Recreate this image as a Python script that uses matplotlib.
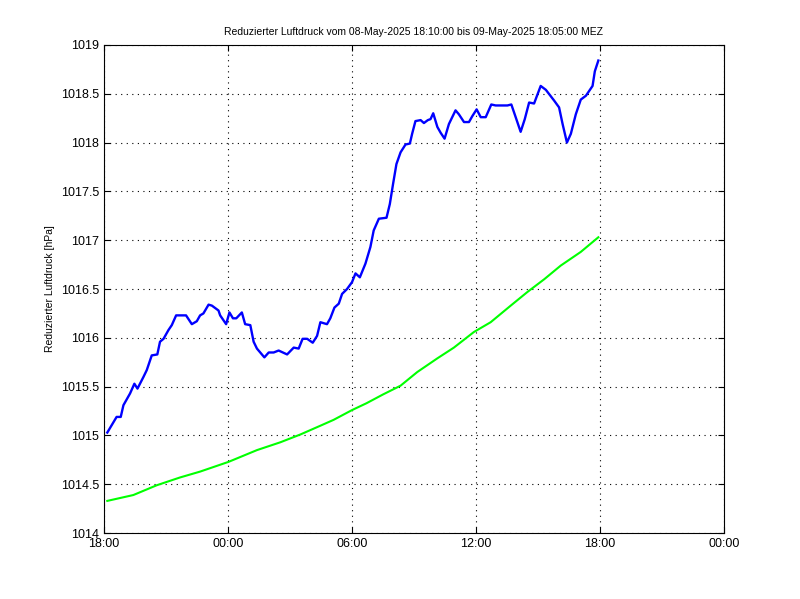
import numpy as np
import matplotlib
matplotlib.use('Agg')
import matplotlib.pyplot as plt

plt.rcParams['font.family'] = ['Liberation Sans', 'DejaVu Sans']

# hours after 08-May-2025 18:00
t_luft = [0.16, 0.61, 0.81, 0.94, 1.26, 1.47, 1.62, 1.91, 2.07, 2.31, 2.58, 2.71, 2.88,
          3.12, 3.28, 3.49, 3.97, 4.25, 4.49, 4.65, 4.81, 5.06, 5.22, 5.54, 5.62, 5.91,
          6.07, 6.24, 6.40, 6.67, 6.83, 7.08, 7.24, 7.40, 7.76, 7.97, 8.21, 8.45, 8.86,
          9.18, 9.42, 9.61, 9.83, 10.10, 10.31, 10.47, 10.79, 10.95, 11.15, 11.36, 11.52,
          11.76, 12.00, 12.17, 12.38, 12.65, 12.89, 13.05, 13.30, 13.67, 13.83, 13.99,
          14.15, 14.35, 14.59, 14.80, 14.91, 15.07, 15.32, 15.48, 15.67, 15.80, 15.93,
          16.13, 16.29, 16.48, 16.69, 17.01, 17.17, 17.42, 17.66, 17.82, 18.03, 18.23,
          18.47, 18.74, 18.95, 19.52, 19.71, 19.92, 20.16, 20.36, 20.57, 20.81, 21.13,
          21.38, 21.78, 22.02, 22.19, 22.40, 22.59, 22.83, 23.07, 23.32, 23.48, 23.64,
          23.75, 23.92]
p_luft = [1015.03, 1015.19, 1015.19, 1015.31, 1015.43, 1015.53, 1015.48, 1015.60, 1015.67,
          1015.82, 1015.83, 1015.96, 1015.99, 1016.08, 1016.13, 1016.23, 1016.23, 1016.14,
          1016.17, 1016.23, 1016.25, 1016.34, 1016.33, 1016.28, 1016.23, 1016.14, 1016.26,
          1016.20, 1016.20, 1016.26, 1016.14, 1016.13, 1015.96, 1015.89, 1015.80, 1015.85,
          1015.85, 1015.87, 1015.83, 1015.90, 1015.89, 1015.99, 1015.99, 1015.95, 1016.02,
          1016.16, 1016.14, 1016.20, 1016.31, 1016.35, 1016.45, 1016.50, 1016.57, 1016.66,
          1016.62, 1016.76, 1016.93, 1017.10, 1017.22, 1017.23, 1017.37, 1017.58, 1017.78,
          1017.90, 1017.98, 1017.99, 1018.09, 1018.22, 1018.23, 1018.20, 1018.23, 1018.24,
          1018.30, 1018.16, 1018.10, 1018.04, 1018.19, 1018.33, 1018.29, 1018.21, 1018.21,
          1018.27, 1018.34, 1018.26, 1018.26, 1018.39, 1018.38, 1018.38, 1018.39, 1018.26,
          1018.11, 1018.24, 1018.41, 1018.40, 1018.58, 1018.54, 1018.43, 1018.36, 1018.19,
          1018.00, 1018.09, 1018.29, 1018.44, 1018.48, 1018.53, 1018.58, 1018.73, 1018.84]

# green trend curve
t_trend = [0.16, 1.42, 2.55, 3.68, 4.65, 6.03, 7.40, 8.53, 9.50, 10.47, 11.11, 12.0,
           12.7, 13.5, 14.35, 15.16, 16.13, 16.93, 17.90, 18.71, 19.68, 20.49, 21.30,
           22.10, 23.07, 23.92]
p_trend = [1014.33, 1014.39, 1014.49, 1014.57, 1014.63, 1014.73, 1014.85, 1014.93,
           1015.01, 1015.10, 1015.16, 1015.26, 1015.33, 1015.42, 1015.51, 1015.65,
           1015.79, 1015.90, 1016.06, 1016.16, 1016.33, 1016.47, 1016.60, 1016.74,
           1016.88, 1017.03]

xticks = [0, 6, 12, 18, 24, 30]
xlabels = ['18:00', '00:00', '06:00', '12:00', '18:00', '00:00']
yticks = [1014, 1014.5, 1015, 1015.5, 1016, 1016.5, 1017, 1017.5, 1018, 1018.5, 1019]
ylabels = ['1014', '1014.5', '1015', '1015.5', '1016', '1016.5', '1017', '1017.5',
           '1018', '1018.5', '1019']

fig = plt.figure(figsize=(8, 5.99), dpi=100)
ax = fig.add_axes([0.13, 0.11, 0.775, 0.815])

ax.plot(t_luft, p_luft, color='#0000ff', linewidth=1.7)
ax.plot(t_trend, p_trend, color='#00ff00', linewidth=1.5)

ax.set_xlim(0, 30)
ax.set_ylim(1014, 1019)
ax.set_xticks(xticks)
ax.set_xticklabels(xlabels)
ax.set_yticks(yticks)
ax.set_yticklabels(ylabels)
ax.tick_params(direction='in', top=True, right=True, labelsize=9, length=4, width=0.8)
ax.grid(True, color='black', linestyle=(0, (1, 4)), linewidth=0.8)
for s in ax.spines.values():
    s.set_linewidth(0.8)

ax.set_ylabel('Reduzierter Luftdruck [hPa]', fontsize=7.5)
ax.set_title('Reduzierter Luftdruck vom 08-May-2025 18:10:00 bis 09-May-2025 18:05:00 MEZ',
             fontsize=7.5, pad=7)

plt.savefig('out.png', dpi=100)
